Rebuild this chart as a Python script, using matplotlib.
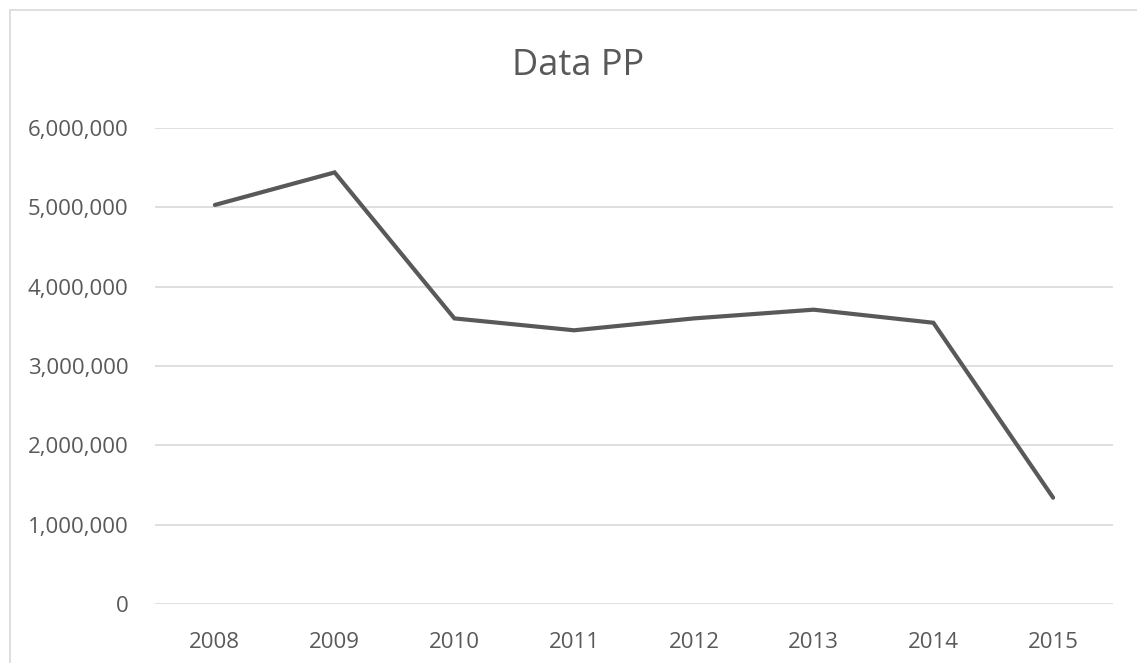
import matplotlib.pyplot as plt
import matplotlib.ticker as mticker
from matplotlib.patches import Rectangle

# 데이터
years = ['2008', '2009', '2010', '2011', '2012', '2013', '2014', '2015']
values = [5030000, 5440000, 3600000, 3450000, 3600000, 3710000, 3545000, 1340000]

plt.rcParams['font.family'] = ['Open Sans', 'DejaVu Sans']
text_color = '#595959'

W, H = 1137, 663
fig = plt.figure(figsize=(W / 100, H / 100), dpi=100)
ax = fig.add_axes([155 / W, 1 - 604 / H, 958 / W, 476 / H])

# 바깥 테두리
fig.patches.append(Rectangle((10 / W, -0.1), 1.2, 1.1 - 10 / H, transform=fig.transFigure,
                             fill=False, edgecolor='#d9d9d9', linewidth=1.2))

x = range(len(years))
ax.plot(x, values, color='#595959', linewidth=3, solid_capstyle='round', solid_joinstyle='miter')

ax.set_xlim(-0.5, len(years) - 0.5)
ax.set_ylim(0, 6000000)
ax.set_yticks(range(0, 6000001, 1000000))
ax.yaxis.set_major_formatter(mticker.FuncFormatter(lambda v, p: f'{int(v):,}'))
ax.set_xticks(list(x))
ax.set_xticklabels(years)

ax.grid(axis='y', color='#d9d9d9', linewidth=1.2)
ax.set_axisbelow(True)
for s in ax.spines.values():
    s.set_visible(False)
ax.tick_params(length=0, labelsize=16, labelcolor=text_color)
ax.tick_params(axis='y', pad=19)
ax.tick_params(axis='x', pad=20)

fig.text(578 / W, 1 - 66 / H, 'Data PP', ha='center', va='center', fontsize=26, color=text_color)

fig.savefig('out.png', dpi=100)
